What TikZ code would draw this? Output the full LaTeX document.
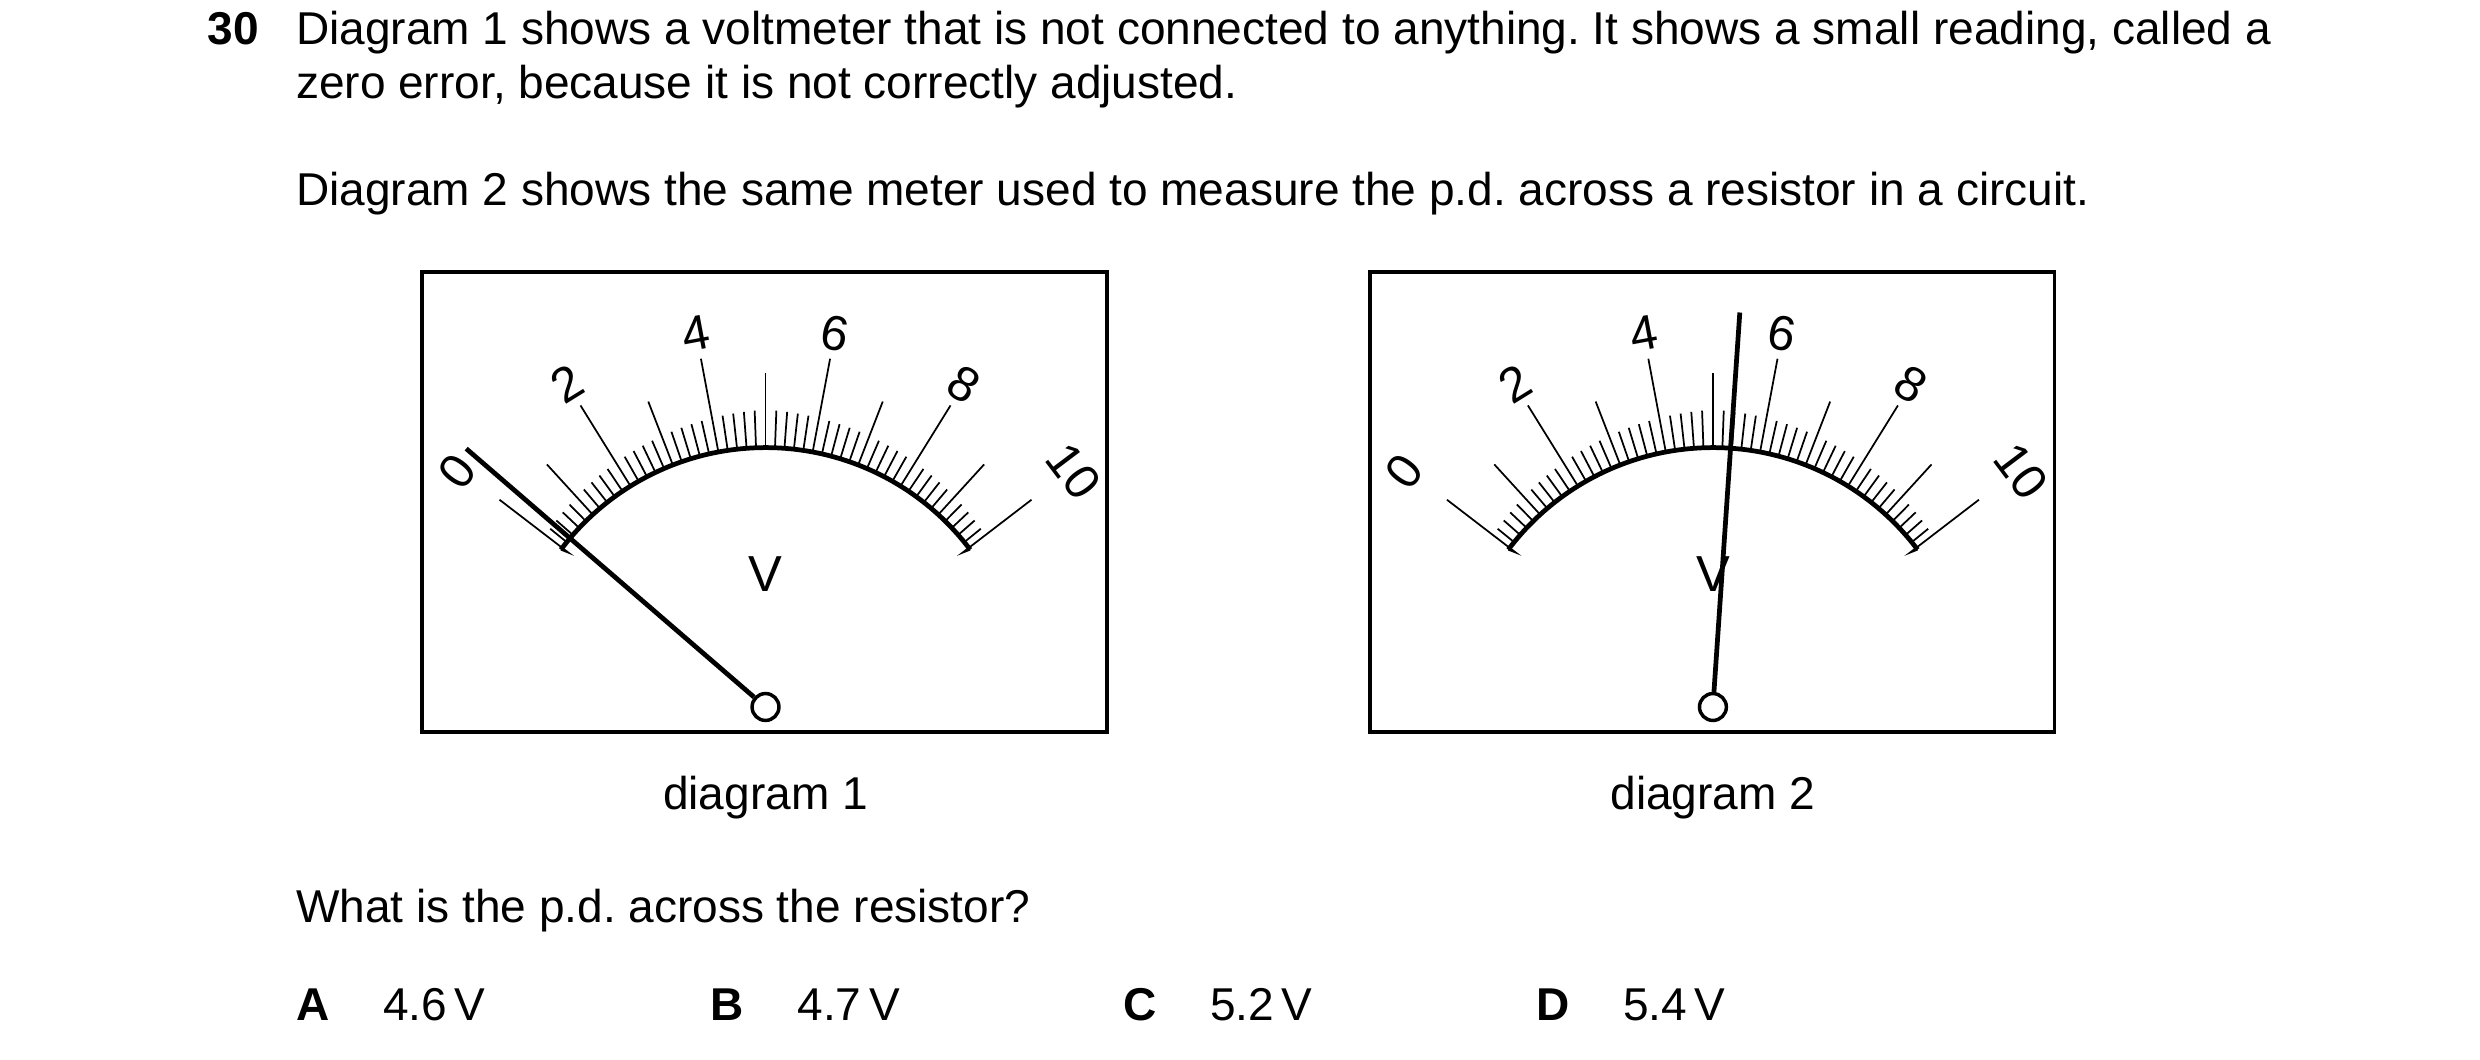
\documentclass[tikz,border=0pt]{standalone}
\usepackage{fontspec}
\setmainfont{Liberation Sans}
\usetikzlibrary{calc}
\frenchspacing
\begin{document}
\begin{tikzpicture}[x=1pt,y=1pt,
  txt/.style={anchor=base west,inner sep=0pt,font=\fontsize{29.1}{32}\selectfont},
  num/.style={inner sep=0pt,font=\fontsize{31}{32}\selectfont},
  frame/.style={line width=2.4pt},
  tick/.style={line width=1.1pt},
  needle/.style={line width=3pt}]
\useasboundingbox (0,0) rectangle (1568,-669.6);
\node[txt,font=\fontsize{29.1}{32}\selectfont\bfseries] (q) at (131,-28) {30};
\node[txt] (l1) at (187,-28) {Diagram 1 shows a voltmeter that is not connected to anything. It shows a small reading, called a};
\node[txt] (l2) at (187,-62) {zero error, because it is not correctly adjusted.};
\node[txt] (l3) at (187,-130) {Diagram 2 shows the same meter used to measure the p.d. across a resistor in a circuit.};
\node[txt] (l4) at (187,-583) {What is the p.d. across the resistor?};
\foreach \L/\x/\v in {A/187/4.6,B/449/4.7,C/710/5.2,D/971/5.4}{
  \node[txt,font=\fontsize{29.1}{32}\selectfont\bfseries] (opt\L) at (\x,-645) {\L};
  \node[txt] (val\L) at (\x+55,-645) {\v\,V};
}
\foreach \cx/\ang/\k in {484/139.2/1,1083/86.1/2}{
  \begin{scope}[shift={(\cx,-445)}]
  \draw[frame] (-217,273) rectangle (216,-18);
  \draw[line width=3pt] (37:162) arc (37:143:162);
  \foreach \i in {1,...,49}{
    \pgfmathsetmacro\a{143-\i*2.12}
    \pgfmathsetmacro\l{ifthenelse(mod(\i,10)==0,60,ifthenelse(mod(\i,5)==0,ifthenelse(\i==25,47,43),13+11*(1-abs(\a-90)/53)))}
    \draw[tick] (\a:162) -- (\a:162+\l);
  }
  \draw[tick] (143:162) -- (142.5:157) -- (142.5:212);
  \draw[tick] (37:162) -- (37.5:157) -- (37.5:212);
  \foreach \n in {0,2,...,10}{
    \pgfmathsetmacro\a{143-\n*10.6}
    \pgfmathsetmacro\r{ifthenelse(\n==0 || \n==10,244,238)}
    \node[num,rotate=\a-90] (lab\k-\n) at (\a:\r) {\n};
  }
  \node[num,font=\fontsize{32}{32}\selectfont] (V\k) at (0,82) {V};
  \node[circle,draw,line width=2.2pt,minimum size=17pt,inner sep=0pt,fill=white] (piv\k) at (0,-2) {};
  \coordinate (tip\k) at ($(0,-2)+(\ang:250)$);
  \draw[needle] (piv\k) -- (tip\k);
  \node[txt,anchor=base] (cap\k) at (0,-67) {diagram \k};
  \end{scope}
}
\end{tikzpicture}
\end{document}
